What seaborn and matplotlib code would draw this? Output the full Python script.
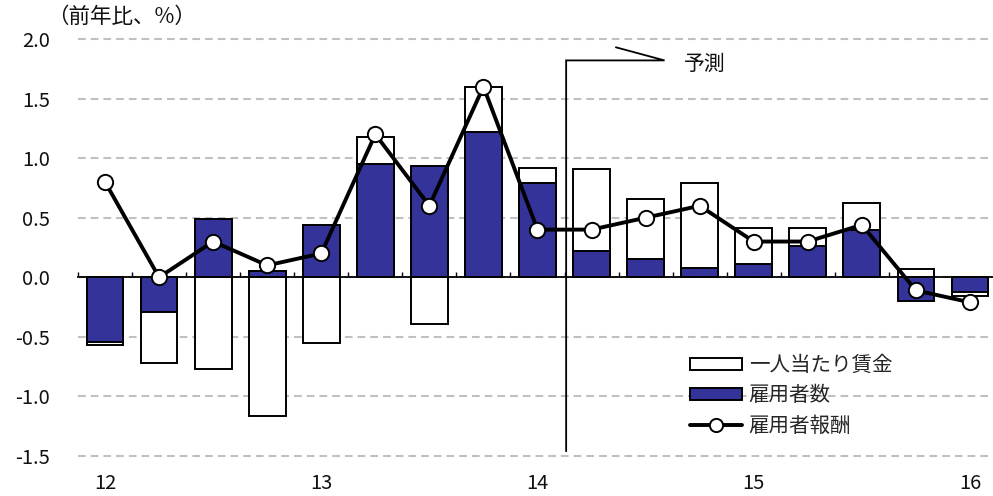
import matplotlib
matplotlib.use("Agg")
import matplotlib.pyplot as plt
import numpy as np
import pandas as pd
import seaborn as sns
from matplotlib.patches import Patch
from matplotlib.lines import Line2D

# ---------------- data ----------------
quarters = ["2012Q1", "2012Q2", "2012Q3", "2012Q4",
            "2013Q1", "2013Q2", "2013Q3", "2013Q4",
            "2014Q1", "2014Q2", "2014Q3", "2014Q4",
            "2015Q1", "2015Q2", "2015Q3", "2015Q4",
            "2016Q1"]
wage_per_person = [-0.03, -0.43, -0.77, -1.16, -0.55, 0.23, -0.39, 0.38,
                   0.13, 0.69, 0.51, 0.71, 0.30, 0.15, 0.22, 0.07, -0.04]
employees = [-0.54, -0.29, 0.49, 0.05, 0.44, 0.95, 0.93, 1.22,
             0.79, 0.22, 0.15, 0.08, 0.11, 0.26, 0.40, -0.20, -0.12]
compensation = [0.8, 0.0, 0.3, 0.1, 0.2, 1.2, 0.6, 1.6,
                0.4, 0.4, 0.5, 0.6, 0.3, 0.3, 0.44, -0.11, -0.21]
year_labels = ["12", "13", "14", "15", "16"]
y_ticks = [2.0, 1.5, 1.0, 0.5, 0.0, -0.5, -1.0, -1.5]
y_tick_labels = ["2.0", "1.5", "1.0", "0.5", "0.0", "-0.5", "-1.0", "-1.5"]
series_names = ["一人当たり賃金", "雇用者数", "雇用者報酬"]
unit_label = "（前年比、%）"
forecast_label = "予測"

BLUE = "#333399"
TXT = "#111111"

# ---------------- style ----------------
sns.set_style("white")
plt.rcParams["font.family"] = ["Noto Sans CJK JP", "DejaVu Sans"]
plt.rcParams["axes.unicode_minus"] = False

df = pd.DataFrame({"quarter": quarters, "wage": wage_per_person,
                   "emp": employees, "comp": compensation})
df["pos"] = np.arange(len(df))
same_sign = np.sign(df["wage"]) == np.sign(df["emp"])
df["wage_extent"] = np.where(same_sign, df["wage"] + df["emp"], df["wage"])

fig = plt.figure(figsize=(9.93, 4.96), dpi=100)
ax = fig.add_axes([78 / 993, 1 - 462 / 496, 919 / 993, 429 / 496])

sns.barplot(data=df, x="quarter", y="wage_extent", color="white",
            edgecolor="black", linewidth=1.4, width=0.68, saturation=1,
            errorbar=None, ax=ax)
sns.barplot(data=df, x="quarter", y="emp", color=BLUE,
            edgecolor="black", linewidth=1.4, width=0.68, saturation=1,
            errorbar=None, ax=ax)
sns.lineplot(data=df, x="pos", y="comp", color="black", linewidth=2.8,
             marker="o", markersize=11, markerfacecolor="white",
             markeredgecolor="black", markeredgewidth=1.4, ax=ax,
             legend=False, zorder=5)

ax.set_xlim(-0.5, len(df) - 0.5)
ax.set_ylim(-1.55, 2.05)
ax.set_xlabel("")
ax.set_ylabel("")

# y axis
ax.set_yticks(y_ticks)
ax.set_yticklabels(y_tick_labels)
ax.tick_params(axis="y", length=0, pad=20, labelsize=14.5, labelcolor=TXT)
ax.yaxis.grid(True, color="#c0c0c0", linewidth=1.5, linestyle=(0, (3.7, 2.4)))
ax.xaxis.grid(False)
ax.set_axisbelow(True)

for s in ["left", "top", "right"]:
    ax.spines[s].set_visible(False)

# zero axis with boundary ticks
ax.spines["bottom"].set_position(("data", 0))
ax.spines["bottom"].set_color("black")
ax.spines["bottom"].set_linewidth(1.3)
ax.spines["bottom"].set_zorder(4)
ax.set_xticks(df["pos"].to_numpy()[:-1] - 0.5)
ax.tick_params(axis="x", direction="in", length=3.5, width=1.0,
               color="black", labelbottom=False, bottom=True)

# year labels at bottom
q1_pos = df.loc[df["quarter"].str.endswith("Q1"), "pos"].to_numpy()
sec = ax.secondary_xaxis("bottom")
sec.set_xticks(q1_pos)
sec.set_xticklabels(year_labels)
sec.tick_params(length=0, pad=8, labelsize=14.5, labelcolor=TXT)
sec.spines["bottom"].set_visible(False)

# forecast annotation
fx = 8.53
ax.plot([fx, fx, 10.35, 9.45], [-1.46, 1.82, 1.82, 1.93],
        color="black", linewidth=1.3, zorder=6, solid_joinstyle="miter")
ax.text(10.7, 1.79, forecast_label, fontsize=15, va="center", ha="left",
        color=TXT)

# unit label
fig.text(47 / 993, 1 - 17 / 496, unit_label, fontsize=15.5, va="center",
         ha="left", color=TXT)

# legend
handles = [Patch(facecolor="white", edgecolor="black", linewidth=1.4),
           Patch(facecolor=BLUE, edgecolor="black", linewidth=1.4),
           Line2D([], [], color="black", linewidth=2.8, marker="o",
                  markersize=9.5, markerfacecolor="white",
                  markeredgecolor="black", markeredgewidth=1.4)]
ax.legend(handles, series_names, loc="upper left",
          bbox_to_anchor=(690 / 993, 1 - 354 / 496),
          bbox_transform=fig.transFigure, frameon=False, fontsize=14.8,
          borderpad=0, borderaxespad=0, handlelength=2.55,
          handleheight=0.5, handletextpad=0.3, labelspacing=0.4)

fig.savefig("out.png", dpi=100)
